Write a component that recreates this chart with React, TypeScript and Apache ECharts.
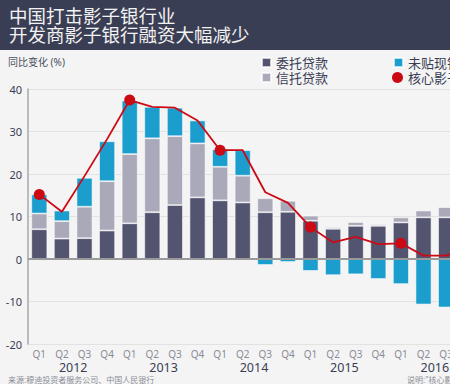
import React, { useEffect, useRef } from "react";
import * as echarts from "echarts";

const years = ["2012", "2013", "2014", "2015", "2016"];
const quarters = ["Q1", "Q2", "Q3", "Q4"];
const categories = years.flatMap((y) => quarters.map((q) => `${y}${q}`));

const entrusted = [7.0, 4.8, 4.9, 6.7, 8.4, 11.0, 12.7, 14.5, 13.8, 13.3, 11.0, 11.1, 9.0, 7.1, 7.8, 7.8, 8.6, 9.8, 9.8, 9.8];
const trust = [3.7, 4.1, 7.4, 11.6, 16.3, 17.4, 16.2, 12.7, 7.9, 6.3, 3.3, 2.6, 1.2, 0.4, 0.9, 0.4, 1.2, 1.6, 2.4, 2.5];
const bankers = [4.5, 2.5, 6.8, 9.4, 12.6, 7.4, 6.7, 5.4, 4.1, 6.0, -1.4, -0.7, -2.8, -3.8, -3.6, -4.7, -5.9, -10.7, -11.4, -9.0];
const core = [15.2, 11.1, 19.5, 28.2, 37.4, 35.8, 35.6, 32.6, 25.6, 25.6, 15.7, 13.2, 7.5, 3.9, 5.2, 3.5, 3.7, 0.8, 0.8, 3.0];

const yTicks = { min: -20, max: 40, interval: 10 };

const title1 = "中国打击影子银行业";
const title2 = "开发商影子银行融资大幅减少";
const unitLabel = "同比变化 (%)";
const sourceText = "来源:穆迪投资者服务公司、中国人民银行";
const noteText = "说明:\"核心影子银行融资\"包括委托贷款、信托贷款和未贴现银行承兑汇票";

const names = ["委托贷款", "信托贷款", "未贴现银行承兑汇票", "核心影子银行融资*"];

const FONT = '"Noto Sans", "Noto Sans CJK SC", sans-serif';
const DARK = "#3a3e54";

export default function App() {
  const ref = useRef<HTMLDivElement>(null);
  useEffect(() => {
    if (!ref.current) return;
    const chart = echarts.init(ref.current, undefined, { renderer: "svg" });
    const legendBase = {
      itemWidth: 9,
      itemHeight: 9,
      padding: 0,
      textStyle: { fontSize: 13, lineHeight: 13, color: DARK, fontFamily: FONT },
    };
    chart.setOption({
      animation: false,
      backgroundColor: "#f4f4f4",
      textStyle: { fontFamily: FONT },
      graphic: [
        { type: "rect", left: 0, top: 0, shape: { width: 500, height: 50 }, style: { fill: "#3a3e54" }, silent: true },
        { type: "text", left: 9, top: 6, style: { text: title1, fill: "#f2f2f2", fontSize: 18.5, fontFamily: FONT, lineHeight: 18 } },
        { type: "text", left: 9, top: 25, style: { text: title2, fill: "#f2f2f2", fontSize: 18.5, fontFamily: FONT, lineHeight: 18 } },
        { type: "text", left: 8, top: 57, style: { text: unitLabel, fill: "#4a4e60", fontSize: 10, fontFamily: FONT } },
        { type: "text", left: 8, top: 375, style: { text: sourceText, fill: "#8a8c96", fontSize: 8, lineHeight: 8, fontFamily: FONT } },
        { type: "text", left: 407, top: 375, style: { text: noteText, fill: "#8a8c96", fontSize: 8, lineHeight: 8, fontFamily: FONT } },
      ],
      legend: [
        { ...legendBase, data: [{ name: names[0], icon: "rect" }], left: 261, top: 56 },
        { ...legendBase, data: [{ name: names[1], icon: "rect" }], left: 261, top: 71 },
        { ...legendBase, data: [{ name: names[2], icon: "rect" }], left: 393, top: 56 },
        { ...legendBase, data: [{ name: names[3], icon: "circle" }], left: 392, top: 71, itemWidth: 11, itemHeight: 11 },
      ],
      grid: { left: 28, top: 89, width: 452, height: 255, containLabel: false },
      xAxis: [
        {
          type: "category",
          data: categories,
          axisLine: { show: false },
          axisTick: { show: false },
          axisLabel: {
            formatter: (v: string) => v.slice(4),
            color: "#8a8c98",
            fontSize: 10,
            margin: 5,
            interval: 0,
          },
        },
        {
          type: "category",
          data: years,
          position: "bottom",
          axisLine: { show: false },
          axisTick: { show: false },
          axisLabel: { color: DARK, fontSize: 12.5, lineHeight: 12, margin: 17, interval: 0 },
        },
      ],
      yAxis: {
        type: "value",
        min: yTicks.min,
        max: yTicks.max,
        interval: yTicks.interval,
        axisLine: { show: true, lineStyle: { color: "#a8a8a8", width: 1.5 } },
        axisTick: { show: false },
        axisLabel: { color: DARK, fontSize: 11, margin: 6 },
        splitLine: { lineStyle: { color: "#e2e2e2", width: 1 } },
      },
      series: [
        {
          name: names[0],
          type: "bar",
          stack: "s",
          barWidth: 16,
          data: entrusted,
          itemStyle: { color: "#525470", borderColor: "rgba(255,255,255,0.7)", borderWidth: 0.8 },
          markLine: {
            silent: true,
            symbol: "none",
            label: { show: false },
            lineStyle: { color: "#9a9a9a", width: 2, type: "solid" },
            data: [{ yAxis: 0 }],
          },
        },
        {
          name: names[1],
          type: "bar",
          stack: "s",
          barWidth: 16,
          data: trust,
          itemStyle: { color: "#a9a9b9", borderColor: "rgba(255,255,255,0.7)", borderWidth: 0.8 },
        },
        {
          name: names[2],
          type: "bar",
          stack: "s",
          barWidth: 16,
          data: bankers,
          itemStyle: { color: "#1b9ecd", borderColor: "rgba(255,255,255,0.7)", borderWidth: 0.8 },
        },
        {
          name: names[3],
          type: "line",
          z: 5,
          data: core.map((v, i) => (i % 4 === 0 ? { value: v, symbol: "circle", symbolSize: 11 } : { value: v, symbol: "none" })),
          lineStyle: { color: "#cc0a14", width: 1.8 },
          itemStyle: { color: "#cc0a14" },
        },
      ],
    });
    return () => chart.dispose();
  }, []);
  return (
    <div style={{ position: "absolute", left: 0, top: 0, width: 450, height: 384, overflow: "hidden" }}>
      <div ref={ref} style={{ width: 490, height: 384 }} />
    </div>
  );
}
